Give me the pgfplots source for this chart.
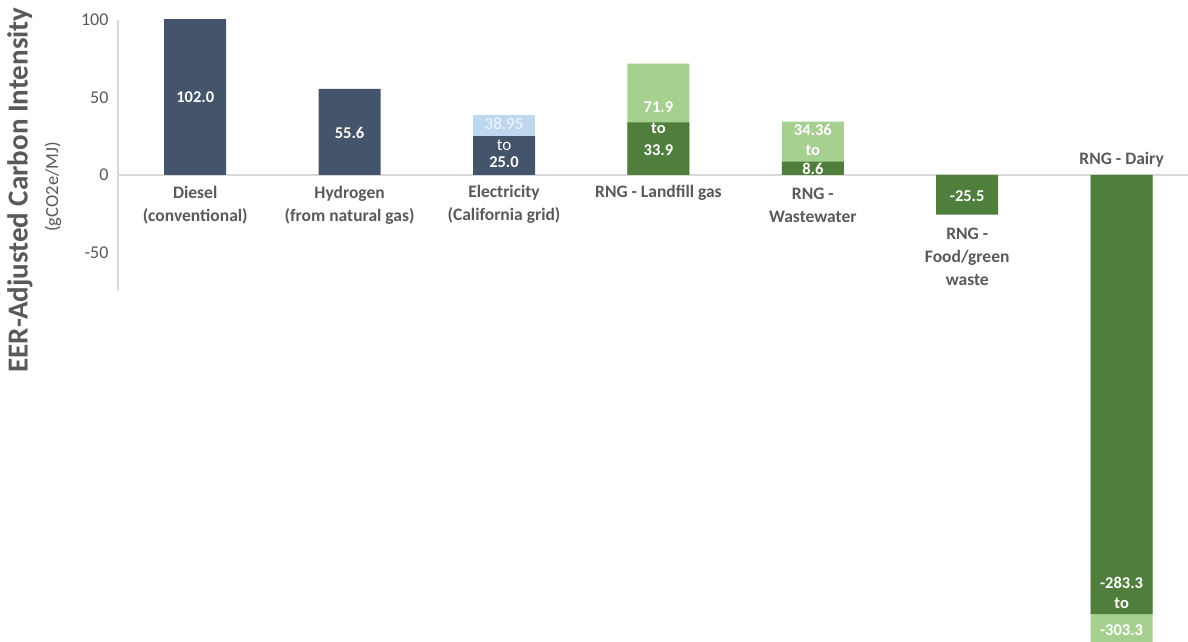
\documentclass[border=0pt]{standalone}
\usepackage{pgfplots}
\pgfplotsset{compat=1.18}
\usepackage{fontspec}
\setmainfont{Carlito}
\definecolor{slate}{HTML}{44546A}
\definecolor{lblue}{HTML}{BDD7EE}
\definecolor{dgreen}{HTML}{507E3C}
\definecolor{lgreen}{HTML}{A6D08F}
\definecolor{txt}{HTML}{595959}
\definecolor{grid}{HTML}{D9D9D9}
\begin{document}
\begin{tikzpicture}
\path[use as bounding box] (0pt,0pt) rectangle (1188pt,642pt);
\begin{axis}[
  at={(118pt,0pt)}, anchor=south west,
  scale only axis, width=1070pt, height=622pt,
  xmin=-0.5, xmax=6.43, ymin=-301.3, ymax=100,
  axis x line*=middle, axis y line*=left,
  x axis line style={-, draw=grid, line width=1.2pt},
  y axis line style={draw=none},
  xtick=\empty, ytick={-50,0,50,100},
  major tick length=0pt,
  yticklabel style={font=\fontsize{18}{20}\selectfont, text=txt, xshift=-6pt},
  /pgf/number format/assume math mode=true,
  ybar, bar width=62pt, bar shift=0pt,
  clip=true,
]
% lighter upper ranges first, darker lower values on top
\addplot[fill=lblue, draw=none] coordinates {(2,38.95)};
\addplot[fill=lgreen, draw=none] coordinates {(3,71.9) (4,34.36) (6,-303.3)};
\addplot[fill=slate, draw=none] coordinates {(0,102.0) (1,55.6) (2,25.0)};
\addplot[fill=dgreen, draw=none] coordinates {(3,33.9) (4,8.6) (5,-25.5) (6,-283.3)};

\tikzset{vl/.style={text=white, font=\fontsize{16.5}{18}\selectfont\bfseries, inner sep=0pt}}
\node[vl] at (axis cs:0,50.3) {102.0};
\node[vl] at (axis cs:1,27.1) {55.6};
\node[vl, text=white!80!lblue, font=\fontsize{17}{18}\selectfont] at (axis cs:2,32.9) {38.95};
\node[vl, font=\fontsize{17}{18}\selectfont] at (axis cs:2,19.4) {to};
\node[vl] at (axis cs:2,8.4) {25.0};
\node[vl] at (axis cs:3,43.9) {71.9};
\node[vl] at (axis cs:3,30.3) {to};
\node[vl] at (axis cs:3,16.1) {33.9};
\node[vl] at (axis cs:4,29) {34.36};
\node[vl] at (axis cs:4,16.1) {to};
\node[vl] at (axis cs:4,3.9) {8.6};
\node[vl] at (axis cs:5,-13.5) {-25.5};
\node[vl] at (axis cs:6,-263.2) {-283.3};
\node[vl] at (axis cs:6,-276.1) {to};
\node[vl] at (axis cs:6,-293.5) {-303.3};

\tikzset{cl/.style={text=txt, align=center, font=\fontsize{17.5}{23}\selectfont\bfseries, inner sep=0pt}}
\node[cl] at (axis cs:0,-19.4) {Diesel\\(conventional)};
\node[cl] at (axis cs:1,-19.4) {Hydrogen\\(from natural gas)};
\node[cl] at (axis cs:2,-19.0) {Electricity\\(California grid)};
\node[cl] at (axis cs:3,-11.6) {RNG - Landfill gas};
\node[cl] at (axis cs:4,-19.4) {RNG -\\Wastewater};
\node[cl] at (axis cs:5,-52.9) {RNG -\\Food/green\\waste};
\node[cl] at (axis cs:6,9.7) {RNG - Dairy};
\end{axis}
\draw[grid, line width=1.2pt] (118pt,352pt) -- (118pt,622pt);
\node[rotate=90, text=txt, font=\fontsize{29}{31}\selectfont\bfseries, inner sep=0pt] at (20pt,452pt) {EER-Adjusted Carbon Intensity};
\node[rotate=90, text=txt, font=\fontsize{18.5}{20}\selectfont, inner sep=0pt] at (53pt,455pt) {(gCO2e/MJ)};
\end{tikzpicture}
\end{document}
